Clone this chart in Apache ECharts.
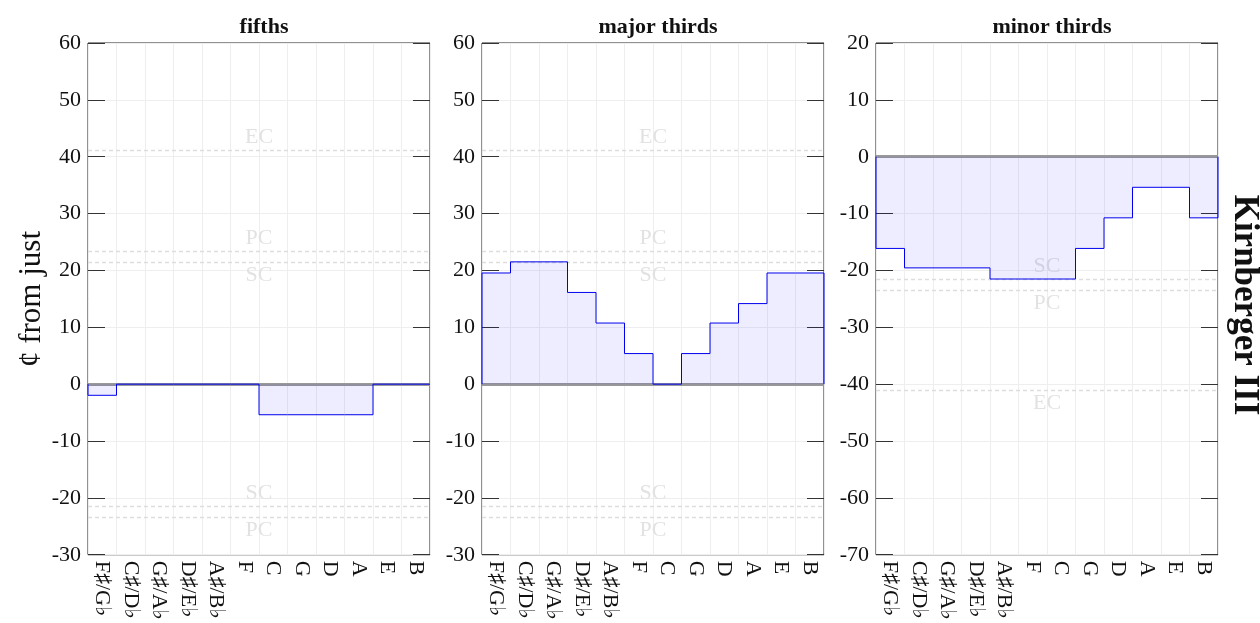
<!DOCTYPE html>
<html>
<head>
<meta charset="utf-8">
<script src="https://cdn.jsdelivr.net/npm/echarts@6/dist/echarts.min.js"></script>
<style>
  html, body { margin: 0; padding: 0; background: #fff; }
  #chart { width: 1260px; height: 623px; }
</style>
</head>
<body>
<div id="chart"></div>
<script>
// interval categories, circle of fifths order
const notes = ['F♯/G♭', 'C♯/D♭', 'G♯/A♭', 'D♯/E♭', 'A♯/B♭', 'F', 'C', 'G', 'D', 'A', 'E', 'B']

// deviation from just, in cents (Kirnberger III)
const fifths = [-1.96, 0, 0, 0, 0, 0, -5.38, -5.38, -5.38, -5.38, 0, 0]
const majorThirds = [19.55, 21.51, 21.51, 16.13, 10.75, 5.38, 0, 5.38, 10.75, 14.17, 19.55, 19.55]
const minorThirds = [-16.13, -19.55, -19.55, -19.55, -21.51, -21.51, -21.51, -16.13, -10.75, -5.38, -5.38, -10.75]

// reference commas
const commaNames = ['EC', 'PC', 'SC']
const commaValues = [41.06, 23.46, 21.51]

const titles = ['fifths', 'major thirds', 'minor thirds']
const yMins = [-30, -30, -70]
const yMaxs = [60, 60, 20]

const series = [fifths, majorThirds, minorThirds]
const serif = "'Liberation Serif', 'DejaVu Serif', serif"
const lefts = [88, 482, 876]
const plotW = 342, plotTop = 43, plotH = 513

let grid = [], xAxis = [], yAxis = [], title = [], chartSeries = []

series.forEach(function (values, p) {
  grid.push({
    left: lefts[p], top: plotTop, width: plotW, height: plotH,
    show: true, borderColor: '#222', borderWidth: 1, backgroundColor: 'transparent'
  })
  title.push({
    text: titles[p], left: lefts[p] + plotW / 2, top: 11, textAlign: 'center',
    textStyle: { fontFamily: serif, fontWeight: 'bold', fontSize: 22, color: '#111' }
  })
  // value axis carrying the step line and vertical grid
  xAxis.push({
    type: 'value', gridIndex: p, min: 0, max: 12, interval: 1, position: 'bottom',
    axisLine: { show: false, onZero: false }, axisTick: { show: false }, axisLabel: { show: false },
    splitLine: { show: true, lineStyle: { color: '#eeeeee', width: 1 } }
  })
  // category axis for the note labels
  xAxis.push({
    type: 'category', gridIndex: p, data: notes, boundaryGap: true, position: 'bottom',
    axisLine: { show: false, onZero: false }, axisTick: { show: false }, splitLine: { show: false },
    axisLabel: { rotate: -90, interval: 0, margin: 6, fontFamily: serif, fontSize: 22, color: '#111' }
  })
  yAxis.push({
    type: 'value', gridIndex: p, min: yMins[p], max: yMaxs[p], interval: 10, position: 'left',
    axisLine: { show: false },
    axisTick: { show: true, inside: true, length: 17, lineStyle: { color: '#333' } },
    axisLabel: { margin: 7, fontFamily: serif, fontSize: 22, color: '#111' },
    splitLine: { show: true, lineStyle: { color: '#eeeeee', width: 1 } }
  })
  yAxis.push({
    type: 'value', gridIndex: p, min: yMins[p], max: yMaxs[p], interval: 10, position: 'right',
    axisLine: { show: false },
    axisTick: { show: true, inside: true, length: 17, lineStyle: { color: '#333' } },
    axisLabel: { show: false }, splitLine: { show: false }
  })

  // reference lines: zero line plus ± commas that fall inside the range
  let marks = [{
    yAxis: 0, label: { show: false },
    lineStyle: { type: 'solid', color: '#999999', width: 3 }
  }]
  commaNames.forEach(function (name, k) {
    [commaValues[k], -commaValues[k]].forEach(function (v) {
      if (v < yMins[p] || v > yMaxs[p]) return
      // SC label sits toward zero, the others away from it
      let above = name === 'SC' ? v < 0 : v > 0
      marks.push({
        yAxis: v,
        lineStyle: { type: [4, 3], color: '#dddddd', width: 1.3 },
        label: {
          show: true, formatter: name, position: above ? 'insideMiddleTop' : 'insideMiddleBottom',
          distance: 2, fontFamily: serif, fontSize: 22, color: '#e2e2e2'
        }
      })
    })
  })
  chartSeries.push({
    type: 'line', xAxisIndex: 2 * p, yAxisIndex: 2 * p, data: [], z: 1, silent: true,
    markLine: { silent: true, z: 1, symbol: ['none', 'none'], animation: false, data: marks }
  })

  // closed step outline, each value spans one category cell
  let pts = [[0, 0]]
  values.forEach(function (v, i) { pts.push([i, v]) })
  pts.push([values.length, values[values.length - 1]])
  pts.push([values.length, 0])
  chartSeries.push({
    type: 'line', xAxisIndex: 2 * p, yAxisIndex: 2 * p, data: pts, step: 'end', z: 3,
    symbol: 'none', silent: true,
    lineStyle: { color: '#0000ee', width: 1 },
    areaStyle: { color: 'rgba(0,0,255,0.1)', origin: 0 }
  })
})

let chart = echarts.init(document.getElementById('chart'))
chart.setOption({
  animation: false,
  backgroundColor: '#fff',
  title: title,
  grid: grid,
  xAxis: xAxis,
  yAxis: yAxis,
  series: chartSeries,
  graphic: [
    {
      type: 'text', x: 32, y: 299, rotation: Math.PI / 2,
      style: { text: '¢ from just', font: "31px 'Liberation Serif', serif", fill: '#111', textAlign: 'center', textVerticalAlign: 'middle' }
    },
    {
      type: 'text', x: 1244, y: 305, rotation: -Math.PI / 2,
      style: { text: 'Kirnberger III', font: "bold 35px 'Liberation Serif', serif", fill: '#111', textAlign: 'center', textVerticalAlign: 'middle' }
    }
  ]
})
</script>
</body>
</html>
